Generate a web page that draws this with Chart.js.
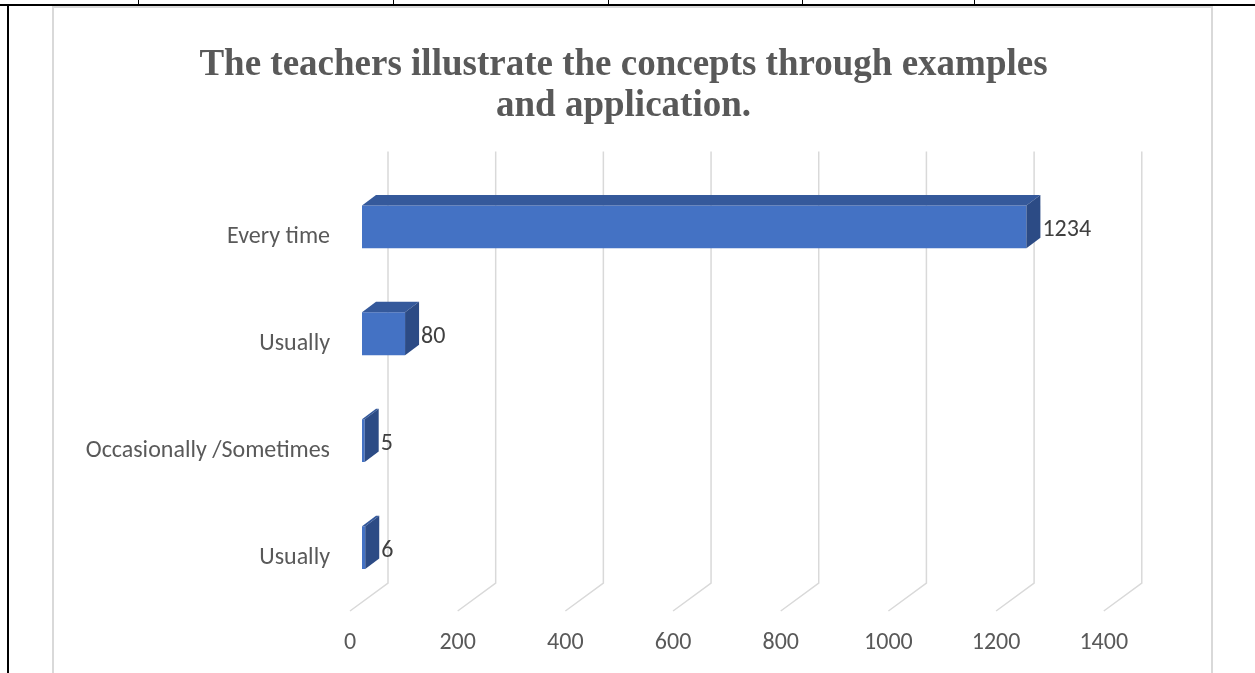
<!DOCTYPE html>
<html>
<head>
<meta charset="utf-8">
<title>The teachers illustrate the concepts through examples and application.</title>
<script src="https://cdn.jsdelivr.net/npm/chart.js@4.4.1/dist/chart.umd.min.js"></script>
<style>
  html, body { margin: 0; padding: 0; background: #fff; }
  body { width: 1255px; height: 673px; position: relative; overflow: hidden; }
  .rule { position: absolute; background: #000; }
  .frame { position: absolute; left: 52px; top: 6px; width: 1157px; height: 700px; border: 2px solid #d9d9d9; }
  #chart { position: absolute; left: 0; top: 0; }
</style>
</head>
<body>
<!-- table lines around the chart -->
<div class="rule" style="left:0;top:4px;width:1255px;height:2px"></div>
<div class="rule" style="left:7px;top:4px;width:2px;height:669px"></div>
<div class="rule" style="left:138px;top:0;width:1px;height:5px"></div>
<div class="rule" style="left:393px;top:0;width:1px;height:5px"></div>
<div class="rule" style="left:608px;top:0;width:1px;height:5px"></div>
<div class="rule" style="left:802px;top:0;width:1px;height:5px"></div>
<div class="rule" style="left:974px;top:0;width:1px;height:5px"></div>
<div class="frame"></div>

<canvas id="chart" width="1255" height="673"></canvas>

<script>
// chart data
const titleLines = ['The teachers illustrate the concepts through examples', 'and application.']
const categories = ['Every time', 'Usually', 'Occasionally /Sometimes', 'Usually']
const responses = [1234, 80, 5, 6]
const xTicks = [0, 200, 400, 600, 800, 1000, 1200, 1400]

// 3D look: back wall offset, bar plane offset and bar depth
const WALL_DX = 38, WALL_DY = 28
const BAR_OX = 12, BAR_OY = -10
const DEPTH_DX = 14, DEPTH_DY = 10.5

const labelFamily = 'Carlito, Lato, sans-serif'
const labelFont = '24px ' + labelFamily

const bar3d = {
  id: 'bar3d',
  beforeDatasetsDraw(chart) {
    const { ctx, chartArea, scales: { x } } = chart
    ctx.save()
    ctx.strokeStyle = '#d9d9d9'
    ctx.lineWidth = 1.5
    xTicks.forEach(v => {
      const px = x.getPixelForValue(v)
      ctx.beginPath()
      ctx.moveTo(px, chartArea.bottom)
      ctx.lineTo(px + WALL_DX, chartArea.bottom - WALL_DY)
      ctx.lineTo(px + WALL_DX, chartArea.top - WALL_DY - 4)
      ctx.stroke()
    })
    ctx.restore()

    // front faces get drawn by chart.js inside this shifted plane
    ctx.save()
    ctx.translate(BAR_OX, BAR_OY)
  },
  afterDatasetsDraw(chart) {
    const ctx = chart.ctx
    const meta = chart.getDatasetMeta(0)
    meta.data.forEach((bar, i) => {
      const { x, y, base, height } = bar.getProps(['x', 'y', 'base', 'height'], true)
      const top = y - height / 2
      const bottom = y + height / 2

      // top face
      ctx.fillStyle = '#35599b'
      ctx.beginPath()
      ctx.moveTo(base, top)
      ctx.lineTo(base + DEPTH_DX, top - DEPTH_DY)
      ctx.lineTo(x + DEPTH_DX, top - DEPTH_DY)
      ctx.lineTo(x, top)
      ctx.closePath()
      ctx.fill()

      // right face
      ctx.fillStyle = '#2c4b85'
      ctx.beginPath()
      ctx.moveTo(x, top)
      ctx.lineTo(x + DEPTH_DX, top - DEPTH_DY)
      ctx.lineTo(x + DEPTH_DX, bottom - DEPTH_DY)
      ctx.lineTo(x, bottom)
      ctx.closePath()
      ctx.fill()

      // value label
      ctx.fillStyle = '#404040'
      ctx.font = labelFont
      ctx.textAlign = 'left'
      ctx.textBaseline = 'middle'
      ctx.fillText(String(responses[i]), x + DEPTH_DX + 2, y + 3)
    })
    ctx.restore()
  }
}

new Chart(document.getElementById('chart'), {
  type: 'bar',
  data: {
    labels: categories,
    datasets: [{
      data: responses,
      backgroundColor: '#4472c4',
      borderWidth: 0,
      categoryPercentage: 1,
      barPercentage: 0.4
    }]
  },
  options: {
    responsive: false,
    animation: false,
    indexAxis: 'y',
    layout: { padding: { left: 0, right: 8, top: 0, bottom: 0 } },
    plugins: {
      legend: { display: false },
      tooltip: { enabled: false },
      title: {
        display: true,
        text: titleLines,
        color: '#595959',
        font: { family: '"Liberation Serif", "Times New Roman", serif', size: 37, weight: 'bold', lineHeight: 1.1 },
        padding: { top: 45, bottom: 57 }
      }
    },
    scales: {
      x: {
        min: 0,
        max: 1666,
        afterBuildTicks: scale => { scale.ticks = xTicks.map(v => ({ value: v })) },
        afterFit: scale => { scale.height = 62 },
        grid: { display: false, drawTicks: false },
        border: { display: false },
        ticks: {
          color: '#595959',
          font: { family: labelFamily, size: 24 },
          padding: 18,
          maxRotation: 0,
          callback: v => String(v)
        }
      },
      y: {
        afterFit: scale => { scale.width = 350 },
        grid: { display: false, drawTicks: false },
        border: { display: false },
        ticks: { color: '#595959', font: { family: labelFamily, size: 24 }, padding: 20 }
      }
    }
  },
  plugins: [bar3d]
})
</script>
</body>
</html>
